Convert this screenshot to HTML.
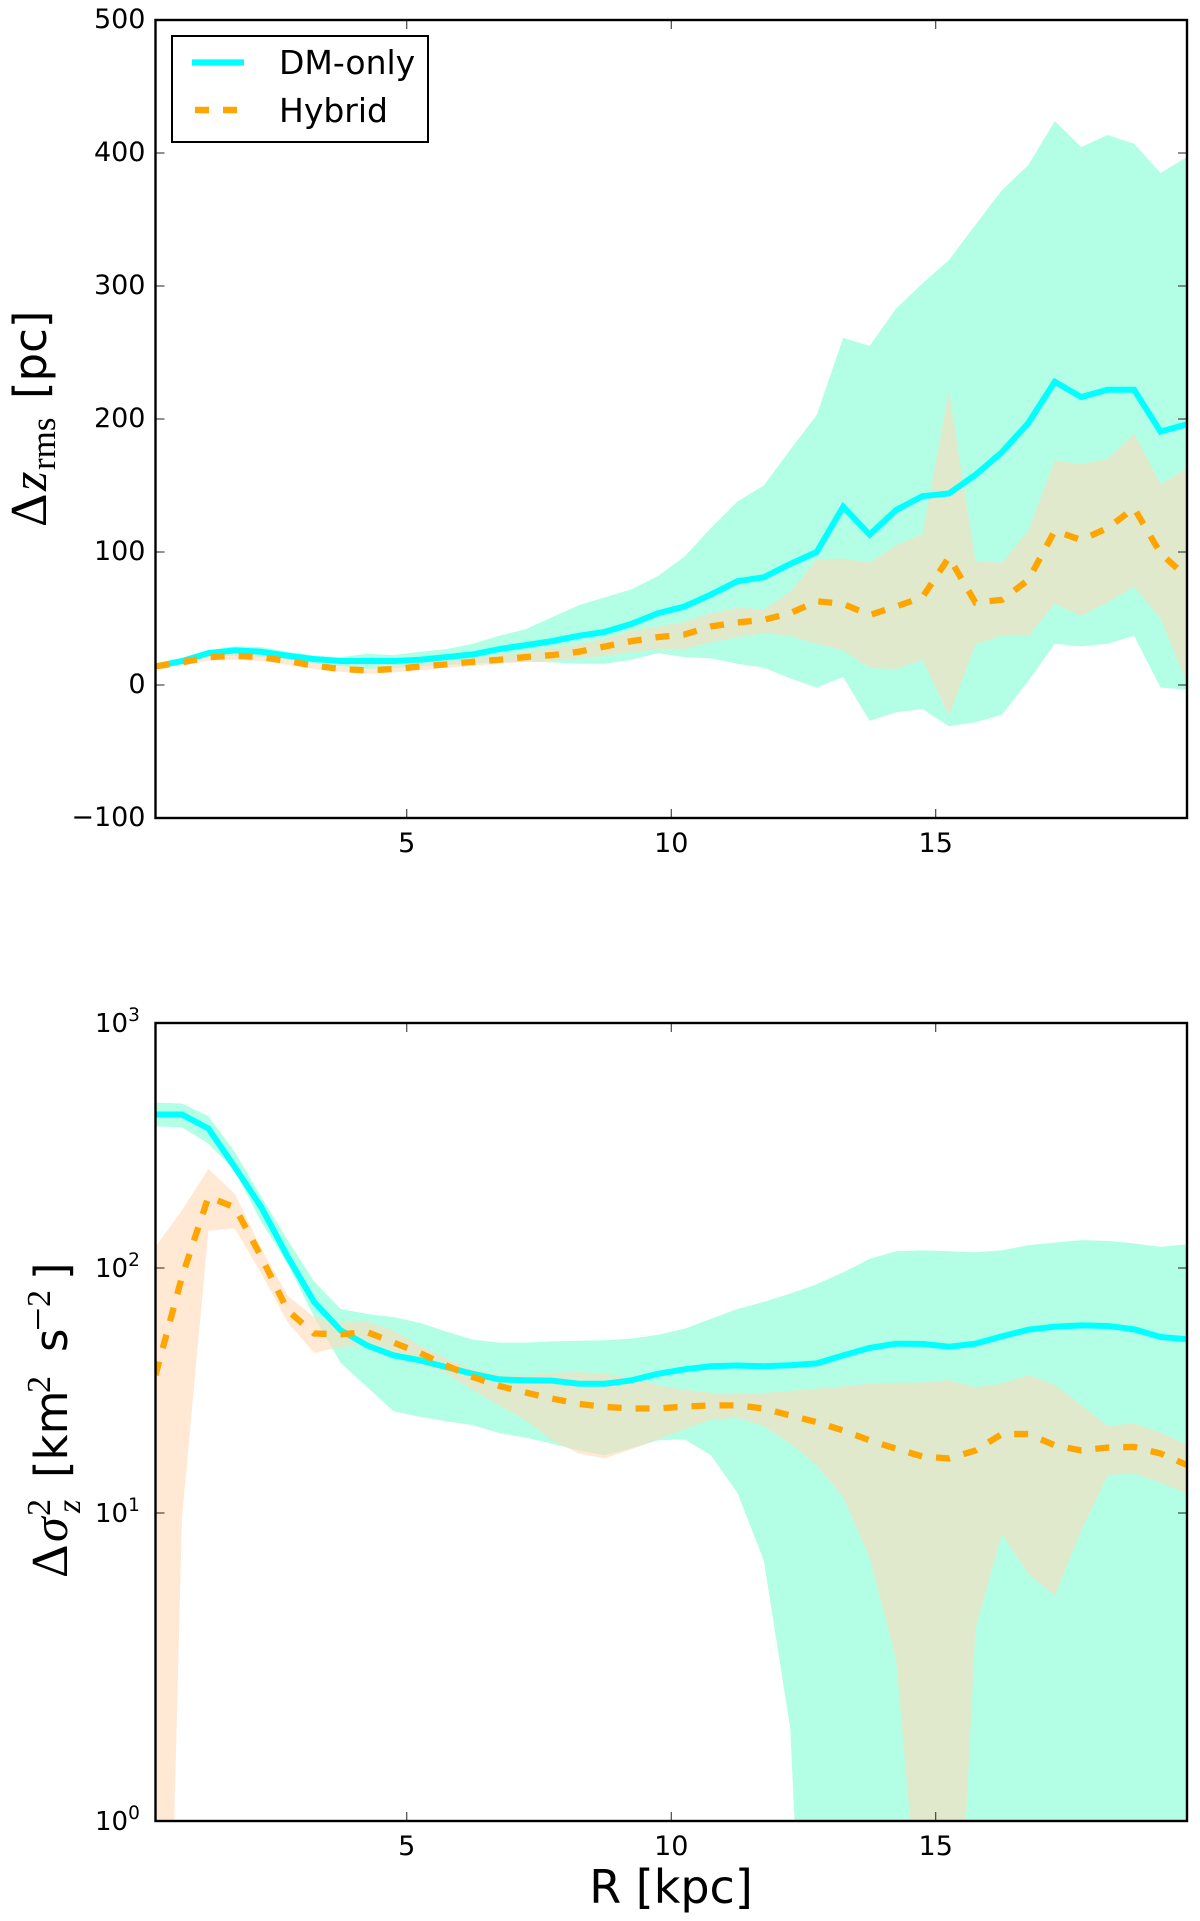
<!DOCTYPE html>
<html lang="en">
<head>
<meta charset="utf-8">
<title>Delta z_rms and Delta sigma_z^2 versus R</title>
<style>
html,body{margin:0;padding:0;background:#fff;overflow:hidden;}
svg{display:block;}
text{font-family:"DejaVu Sans","Liberation Sans",sans-serif;fill:#000;}
.serif{font-family:"Liberation Serif",serif;}
</style>
</head>
<body>
<svg id="chart" xmlns="http://www.w3.org/2000/svg" width="1200" height="1921" viewBox="0 0 1200 1921">
<defs>
<clipPath id="clip-top"><rect x="155.5" y="20" width="1031.5" height="798"></rect></clipPath>
<clipPath id="clip-bottom"><rect x="155.5" y="1023" width="1031.5" height="798"></rect></clipPath>
</defs>
<g id="top-panel"></g>
<g id="bottom-panel"></g>
<text transform="translate(46,527) rotate(-90)" font-size="45"><tspan class="serif" x="0" y="0" font-size="52">Δ</tspan><tspan class="serif" x="36" y="0" font-style="italic" font-size="50">z</tspan><tspan class="serif" x="57" y="9" font-size="35">rms</tspan><tspan x="128" y="0">[pc]</tspan></text>
<text transform="translate(67,1578) rotate(-90)" font-size="45"><tspan class="serif" x="0" y="0" font-size="52">Δ</tspan><tspan class="serif" x="36" y="0" font-style="italic" font-size="50">σ</tspan><tspan class="serif" x="62" y="-17" font-size="34">2</tspan><tspan class="serif" x="65" y="13" font-size="34" font-style="italic">z</tspan><tspan x="100" y="0">[km</tspan><tspan class="serif" x="185" y="-17" font-size="34">2</tspan><tspan x="226" y="0">s</tspan><tspan class="serif" x="247" y="-15" font-size="42">−</tspan><tspan class="serif" x="271" y="-17" font-size="34">2</tspan><tspan x="298" y="0">]</tspan></text>
<text x="671" y="1903" font-size="46" text-anchor="middle">R [kpc]</text>
<g>
<rect x="172" y="36" width="256" height="106" fill="#fff" stroke="#000" stroke-width="2"></rect>
<line x1="192" x2="244" y1="62.5" y2="62.5" stroke="#00ffff" stroke-width="6.3"></line>
<line x1="195" x2="237" y1="110" y2="110" stroke="#ffa500" stroke-width="6.5" stroke-dasharray="14 14"></line>
<text x="279" y="74" font-size="33">DM-only</text>
<text x="279" y="122" font-size="33">Hybrid</text>
</g>
</svg>
<script>
const radiusKpc = [0.25,0.75,1.25,1.75,2.25,2.75,3.25,3.75,4.25,4.75,5.25,5.75,6.25,6.75,7.25,7.75,8.25,8.75,9.25,9.75,10.25,10.75,11.25,11.75,12.25,12.75,13.25,13.75,14.25,14.75,15.25,15.75,16.25,16.75,17.25,17.75,18.25,18.75,19.25,19.75];

const zrmsDmLine = [14,18,24,26,25,22,19.5,18,18,18,19,21,23,27,30,33,37,40,46,54,59,68,78,81,91,100,134,113,131.5,142,144,158,175,197,228,216.5,222,222,190.5,196];
const zrmsDmUpper = [15,19,26,29,28.5,25,22,21,23.5,22.5,25,27,31,37,42,51,60,66,72,82,96.5,118,138,150,177,203,261,255,283,302,319.5,346,372,391,424,404.5,413.5,407,385,397];
const zrmsDmLower = [13,17,21,22,21,19,16,14,12,13,14,15,16,17,17.5,17,16,16,19,24,21,20,16,13,5,-2,6,-27,-20.5,-18,-31,-28,-22.5,3,31,29,31,37,-2,-3.5];
const zrmsHybridLine = [14,17,21,22,21,18,14.5,12,11,12,14,15.5,17.5,19,21,22.5,25,29,33,36,38,44,47,49,54,63,61,52.6,59,66,96,62,64,79,116,109,118,133,99,81];
const zrmsHybridUpper = [16,18.5,23,24,23,20,16,14,12,14,16,18,20,23,25,28,31,35,41,44,47.6,54,58,57,70,94.5,95,92,105,113.5,221,93,92,116,169,166,170,189,151,163];
const zrmsHybridLower = [13,15,18,19,18,15,12,10,8.5,9.5,11,13,14.5,16,17.5,18,20,22,25,27,27,32,36,39,37,31,26,13,12,19,-23,30.5,37,37,61,52,62,74,50,1];

const sigmaDmLine = [423,423,371,258,177,111,72.6,55.7,48.3,44,42,39.4,37,35.1,34.8,34.7,33.7,33.7,34.8,37,38.6,39.7,40,39.7,40.1,40.8,44,47.2,49.1,49,47.7,49.1,52.6,56,57.6,58.3,58,56.2,52.3,51.2];
const sigmaDmUpper = [473,469,417,297,195,130,88,68,65,63,59.7,55,51,49.6,49.6,50.2,50.5,50.7,51.5,53.4,56.5,62,68,72.7,78.6,85.8,96,109,117,118,117,116,118,124,127,130,129,126,122,125];
const sigmaDmLower = [379,375,322,250,154,104,63,41,32.7,26,24.7,23.7,22.8,21.2,20.3,19.2,18,17.2,18.4,19.8,20,17.2,12.1,6.4,1.32,0.006,0.001,0.001,0.001,0.001,0.001,0.001,0.001,0.001,0.001,0.001,0.001,0.001,0.001,0.001];
const sigmaHybridLine = [36.5,92,195,177,111,67,54,53.6,54.8,49.6,45,40,35.9,33,31,29.3,27.9,27.1,26.7,26.7,27.2,27.5,27.5,26.7,25,23.5,21.7,19.8,18.3,17,16.7,18,21,21,18.9,18,18.5,18.6,17.5,15.7];
const sigmaHybridUpper = [122,172,254,201,120,77,63,60,60.6,55.7,48.3,42.7,38.8,36.8,36.5,37.3,37.6,37,35.7,33.2,31.9,31,30.7,30.9,31.5,32.2,32.9,33.7,34,34.1,34.9,32.6,33.7,36.6,33.4,27.5,22.7,23.2,21.3,19];
const sigmaHybridLower = [0.00056,9.5,142,145,95,60,45,47.6,48.6,44.7,40.7,37,31.7,27.5,23.9,19.8,17.5,16.7,18.2,20,22,24,24.5,22.6,19.2,15.7,11.6,6.6,2.54,0.15,0.023,3.37,8.2,5.65,4.6,8.5,14.3,14.5,13.3,12];

const xTickValues = [5,10,15];
const zrmsTickValues = [500,400,300,200,100,0,-100];
const sigmaTickValues = [1000,100,10];
const sigmaTickExponents = ["3","2","1"];
const sigmaBottomLabelExponent = "0";

const NS = 'http://www.w3.org/2000/svg';
const plotLeft = 155.5, plotRight = 1187;
const topBox = {t:20, b:818};
const botBox = {t:1023, b:1821};
const xDomain = [0.25, 19.75];

function xScale(v){ return plotLeft + (v - xDomain[0]) / (xDomain[1] - xDomain[0]) * (plotRight - plotLeft); }
function yLinear(v){ return topBox.t + (500 - v) / 600 * (topBox.b - topBox.t); }
function yLog(v){ return botBox.t + (3 - Math.log10(v)) * 245; }

function make(tag, attrs, parent){
  const el = document.createElementNS(NS, tag);
  for (const k in attrs) el.setAttribute(k, attrs[k]);
  parent.appendChild(el);
  return el;
}
function linePoints(ys, yFn){
  return ys.map(function(v,i){ return xScale(radiusKpc[i]).toFixed(2)+','+yFn(v).toFixed(2); }).join(' ');
}
function clipBelow(pts, limit){
  const out = [];
  for (let i = 0; i < pts.length; i++){
    const p = pts[i], q = pts[(i + 1) % pts.length];
    const pIn = p[1] <= limit, qIn = q[1] <= limit;
    if (pIn) out.push(p);
    if (pIn !== qIn){
      const f = (limit - p[1]) / (q[1] - p[1]);
      out.push([p[0] + f * (q[0] - p[0]), limit]);
    }
  }
  return out;
}
function bandPoints(up, low, yFn, limit){
  const a = up.map(function(v,i){ return [xScale(radiusKpc[i]), yFn(v)]; });
  const b = low.map(function(v,i){ return [xScale(radiusKpc[i]), yFn(v)]; }).reverse();
  return clipBelow(a.concat(b), limit).map(function(p){ return p[0].toFixed(2)+','+p[1].toFixed(2); }).join(' ');
}

function drawSeries(parent, clipId, yFn, limit, dmUp, dmLow, hyUp, hyLow, dmLine, hyLine){
  const g = make('g', {'clip-path':'url(#'+clipId+')'}, parent);
  
  

  const dmBand = make('polygon', {points:bandPoints(dmUp, dmLow, yFn, limit), fill:'#7fffd4', 'fill-opacity':0.6}, g);
  
  

  const hyBand = make('polygon', {points:bandPoints(hyUp, hyLow, yFn, limit), fill:'#ffdab9', 'fill-opacity':0.6}, g);
  
  

  const dm = make('polyline', {points:linePoints(dmLine, yFn), fill:'none', stroke:'#00ffff', 'stroke-width':6, 'stroke-linejoin':'miter'}, g);
  
  

  const hy = make('polyline', {points:linePoints(hyLine, yFn), fill:'none', stroke:'#ffa500', 'stroke-width':6.3, 'stroke-dasharray':'14 14', 'stroke-linejoin':'miter'}, g);
  
  
}

function drawFrame(parent, box){
  xTickValues.forEach(function(v){
    const x = xScale(v);
    const t1 = make('line', {x1:x, x2:x, y1:box.b, y2:box.b-9, stroke:'#222', 'stroke-width':1}, parent);
    
    
    const t2 = make('line', {x1:x, x2:x, y1:box.t, y2:box.t+9, stroke:'#222', 'stroke-width':1}, parent);
    
    
    const lab = make('text', {x:x, y:box.b+34, 'font-size':27, 'text-anchor':'middle'}, parent);
    
    
    lab.textContent = String(v);
  });
  const f = make('rect', {x:plotLeft, y:box.t, width:plotRight-plotLeft, height:box.b-box.t, fill:'none', stroke:'#000', 'stroke-width':2.4}, parent);
  
  
}

function drawYTick(parent, y){
  const a = make('line', {x1:plotLeft, x2:plotLeft+9, y1:y, y2:y, stroke:'#222', 'stroke-width':1}, parent);
  
  
  const b = make('line', {x1:plotRight, x2:plotRight-9, y1:y, y2:y, stroke:'#222', 'stroke-width':1}, parent);
  
  
}

function drawLogLabel(parent, y, exponent){
  const t = make('text', {x:95, y:y+9, 'font-size':26}, parent);
  
  
  const base = make('tspan', {}, t);
  base.textContent = '10';
  const sup = make('tspan', {dy:-11, 'font-size':18.5}, t);
  sup.textContent = exponent;
}

const topPanel = document.getElementById('top-panel');
drawSeries(topPanel, 'clip-top', yLinear, topBox.b, zrmsDmUpper, zrmsDmLower, zrmsHybridUpper, zrmsHybridLower, zrmsDmLine, zrmsHybridLine);
zrmsTickValues.forEach(function(v){
  const y = yLinear(v);
  if (v !== 500 && v !== -100) drawYTick(topPanel, y);
  const lab = make('text', {x:145.5, y:y+8, 'font-size':27, 'text-anchor':'end'}, topPanel);
  
  
  lab.textContent = (v < 0 ? '\u2212' + Math.abs(v) : String(v));
});
drawFrame(topPanel, topBox);

const bottomPanel = document.getElementById('bottom-panel');
drawSeries(bottomPanel, 'clip-bottom', yLog, botBox.b, sigmaDmUpper, sigmaDmLower, sigmaHybridUpper, sigmaHybridLower, sigmaDmLine, sigmaHybridLine);
sigmaTickValues.forEach(function(v,i){
  const y = yLog(v);
  if (i > 0) drawYTick(bottomPanel, y);
  drawLogLabel(bottomPanel, y, sigmaTickExponents[i]);
});
drawLogLabel(bottomPanel, botBox.b, sigmaBottomLabelExponent);
drawFrame(bottomPanel, botBox);
</script>
</body>
</html>
